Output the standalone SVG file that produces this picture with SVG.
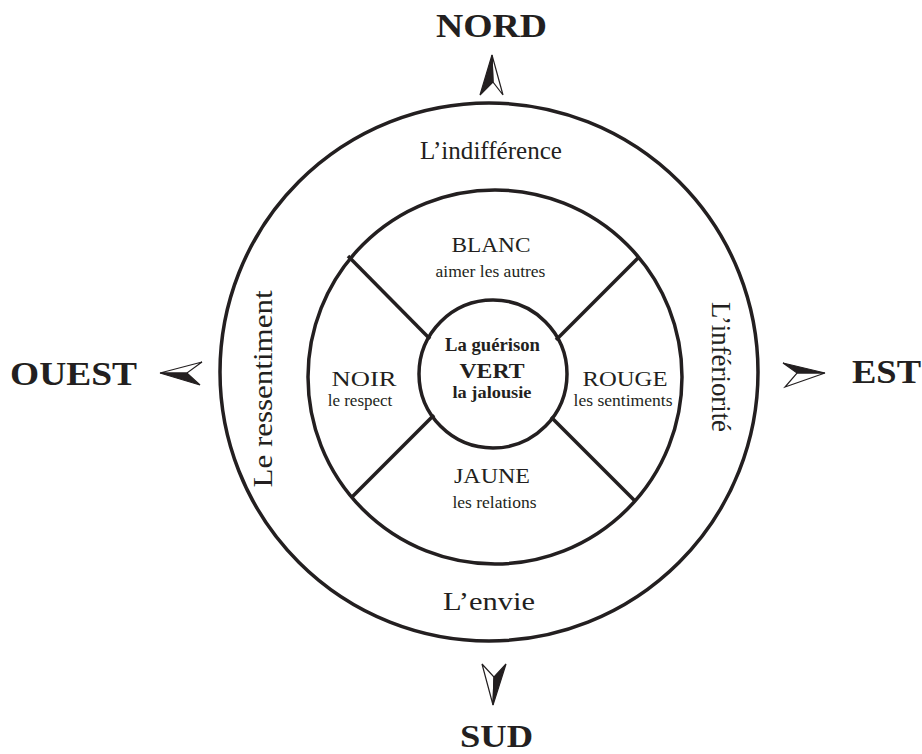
<svg xmlns="http://www.w3.org/2000/svg" width="922" height="754" viewBox="0 0 922 754">
  <style>
    .ring { fill: none; stroke: #231f20; stroke-width: 3.5; }
    .div { stroke: #231f20; stroke-width: 3.5; stroke-linecap: butt; }
    .t { font-family: "Liberation Serif", "Times New Roman", serif; fill: #231f20; text-anchor: middle; }
    .b { font-weight: bold; }
    .needle { fill: #ffffff; stroke: #231f20; stroke-width: 1.2; stroke-linejoin: miter; }
    .needle-dark { fill: #231f20; stroke: #231f20; stroke-width: 1.2; stroke-linejoin: miter; }
  </style>

  <rect width="922" height="754" fill="#ffffff"/>

  <g id="connectors">
    <line class="div" x1="348" y1="256" x2="430" y2="339"/>
    <line class="div" x1="639" y1="257" x2="556" y2="340"/>
    <line class="div" x1="352" y1="497" x2="434" y2="415"/>
    <line class="div" x1="635" y1="501" x2="551" y2="417"/>
  </g>

  <g id="outer-ring">
    <circle class="ring" cx="489" cy="372" r="269"/>
    <text class="t" x="491" y="159" font-size="26" textLength="142" lengthAdjust="spacingAndGlyphs">L’indifférence</text>
    <text class="t" x="489" y="610" font-size="26" textLength="92" lengthAdjust="spacingAndGlyphs">L’envie</text>
    <text class="t" transform="translate(271.5,389) rotate(-90)" font-size="27" textLength="197" lengthAdjust="spacingAndGlyphs">Le ressentiment</text>
    <text class="t" transform="translate(711.5,367) rotate(90)" font-size="27" textLength="130" lengthAdjust="spacingAndGlyphs">L’infériorité</text>
  </g>

  <g id="middle-ring">
    <circle class="ring" cx="495" cy="377" r="187"/>
  </g>

  <g id="blanc">
    <text class="t" x="491" y="252" font-size="22" textLength="79" lengthAdjust="spacingAndGlyphs">BLANC</text>
    <text class="t" x="490.5" y="277" font-size="17.5">aimer les autres</text>
  </g>
  <g id="jaune">
    <text class="t" x="492" y="483" font-size="22" textLength="76" lengthAdjust="spacingAndGlyphs">JAUNE</text>
    <text class="t" x="494.5" y="508" font-size="17.5">les relations</text>
  </g>
  <g id="noir">
    <text class="t" x="364" y="386" font-size="21" textLength="65" lengthAdjust="spacingAndGlyphs">NOIR</text>
    <text class="t" x="360" y="406" font-size="17">le respect</text>
  </g>
  <g id="rouge">
    <text class="t" x="625" y="386" font-size="21" textLength="85" lengthAdjust="spacingAndGlyphs">ROUGE</text>
    <text class="t" x="623" y="406" font-size="17" textLength="99" lengthAdjust="spacingAndGlyphs">les sentiments</text>
  </g>

  <g id="center">
    <circle class="ring" cx="493" cy="374" r="74" fill="#ffffff"/>
    <text class="t b" x="492.5" y="351" font-size="18" textLength="95" lengthAdjust="spacingAndGlyphs">La guérison</text>
    <text class="t b" x="492" y="378" font-size="22" textLength="65" lengthAdjust="spacingAndGlyphs">VERT</text>
    <text class="t b" x="492" y="398" font-size="17.5" textLength="79" lengthAdjust="spacingAndGlyphs">la jalousie</text>
  </g>

  <g id="nord">
    <text class="t b" x="491.5" y="37" font-size="33" textLength="111" lengthAdjust="spacingAndGlyphs">NORD</text>
    <polygon class="needle" points="492,55 503,95 493,82"/>
    <polygon class="needle-dark" points="492,55 480,95 493,82"/>
  </g>
  <g id="sud">
    <text class="t b" x="496.5" y="747" font-size="32" textLength="73" lengthAdjust="spacingAndGlyphs">SUD</text>
    <polygon class="needle" points="493,705 482,664 494,677"/>
    <polygon class="needle-dark" points="493,705 506,664 494,677"/>
  </g>
  <g id="ouest">
    <text class="t b" x="73.5" y="385" font-size="33" textLength="127" lengthAdjust="spacingAndGlyphs">OUEST</text>
    <polygon class="needle" points="160,373 202,362 187,373"/>
    <polygon class="needle-dark" points="160,373 200,385 187,373"/>
  </g>
  <g id="est">
    <text class="t b" x="886.5" y="383" font-size="33" textLength="69" lengthAdjust="spacingAndGlyphs">EST</text>
    <polygon class="needle" points="825,373 785,387 797,373"/>
    <polygon class="needle-dark" points="825,373 783,363 797,373"/>
  </g>
</svg>
